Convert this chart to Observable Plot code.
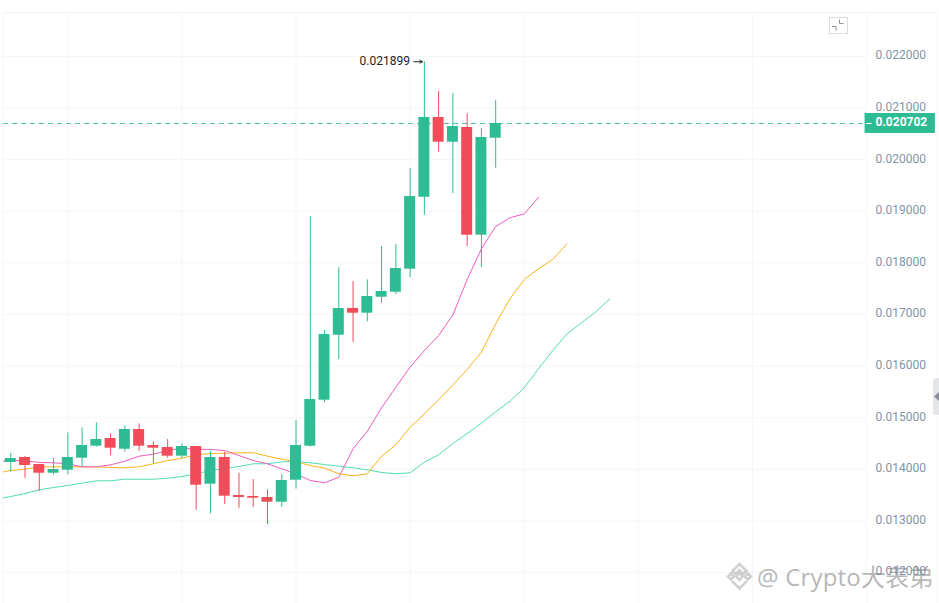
<!DOCTYPE html>
<html><head><meta charset="utf-8">
<script src="https://cdn.jsdelivr.net/npm/d3@7"></script>
<script src="https://cdn.jsdelivr.net/npm/@observablehq/plot@0.6"></script>
<style>
html,body{margin:0;padding:0;background:#fff;overflow:hidden}
#wrap{position:relative;width:939px;height:603px}
#wrap svg{display:block}
.wm{position:absolute;left:757px;top:562px;font:24px/30px "Open Sans","Noto Sans CJK SC",sans-serif;color:rgba(120,120,120,.55);letter-spacing:.2px;white-space:nowrap}
</style></head><body><div id="wrap"></div>
<script>
const highs=[.014312,.014248,.014093,.014209,.014707,.014804,.014901,.014688,.014843,.014882,.014533,.014577,.014494,.014442,.014345,.014331,.013924,.013802,.013603,.013899,.014946,.018899,.01669,.017905,.01764,.017672,.018318,.018357,.019824,.021899,.021322,.021283,.02089,.020605,.021147];
const opens=[.014132,.014229,.014093,.013924,.013983,.014215,.014448,.014597,.014389,.014771,.014461,.014422,.014254,.014442,.013711,.014229,.013492,.013473,.013453,.013362,.013789,.014448,.015339,.016599,.017116,.017025,.017335,.017432,.017878,.019273,.020818,.020339,.020624,.018537,.020417];
const closes=[.014209,.014074,.013924,.013996,.014229,.014461,.014577,.014409,.014771,.014448,.014409,.014254,.014442,.013692,.014229,.013479,.013453,.01344,.013362,.013783,.014461,.015353,.016612,.017116,.017025,.017349,.017446,.017891,.019287,.020818,.020339,.020643,.018537,.02043,.020702];
const lows=[.013944,.013827,.013576,.013886,.013893,.014054,.014428,.014262,.014331,.014351,.014107,.014215,.014209,.013207,.013138,.013318,.013246,.013265,.01293,.013265,.013614,.014428,.015289,.016122,.016463,.016858,.017219,.017388,.017717,.018924,.020145,.019345,.018318,.017911,.019835];
const ma7=[.014151,.01417,.014165,.014132,.014126,.014107,.014048,.014048,.014087,.014157,.014254,.014293,.014364,.014409,.014389,.014384,.014364,.014267,.01417,.014107,.01401,.013909,.013783,.013738,.013847,.014397,.014738,.015192,.015591,.015979,.016302,.016593,.016994,.017678,.018273,.018705,.018874,.018951,.019267];
const ma14=[.013924,.013977,.014002,.014048,.014048,.014048,.014048,.014048,.014035,.014029,.014048,.014107,.01417,.014215,.014281,.014306,.014312,.01432,.01432,.014254,.014196,.014151,.014074,.014021,.013913,.013874,.013913,.014254,.014475,.014816,.015075,.015347,.015638,.015934,.01627,.01682,.017304,.017678,.017886,.018066,.01837];
const ma28=[.013421,.013473,.013531,.013603,.013647,.013686,.013731,.013777,.013777,.013808,.013808,.013808,.013827,.01386,.013913,.013977,.014015,.014054,.014107,.014107,.014145,.014151,.014126,.014093,.01406,.014029,.01399,.013938,.013913,.013932,.014138,.014281,.0145,.014694,.014893,.015114,.01532,.015579,.015948,.016302,.016626,.016839,.017045,.017304];
const yTicks=[.012,.013,.014,.015,.016,.017,.018,.019,.02,.021,.022];
const xGrid=[4,12,20,28,36,44,52];
const lastPrice=.020702, maxPrice=.021899, maxIndex=29;
const green="#2dbc93", red="#f04c5a", grid="#f5f6f8", axisText="#8593a6";

const candles=highs.map((h,i)=>({i,h,l:lows[i],o:opens[i],c:closes[i],up:closes[i]>=opens[i]}));
const series=a=>a.map((v,k)=>({i:k-1,v}));
const fmt=d3.format(".6f");
const pxY=1/51600, pxX=1/14.27;
const font="Roboto, sans-serif";

const chart=Plot.plot({
  width:939,height:603,marginLeft:3,marginRight:73,marginTop:12,marginBottom:0,
  style:{background:"#fff",fontFamily:font,fontSize:"12px"},
  x:{domain:[-.51,60],axis:null},
  y:{domain:[.012-31*pxY,.022+44*pxY]},
  marks:[
    Plot.ruleX(xGrid,{stroke:grid,strokeWidth:1}),
    Plot.ruleY(yTicks,{stroke:grid,strokeWidth:1}),
    Plot.ruleX([-.58,60],{stroke:grid,strokeWidth:1}),
    Plot.ruleY([.022+44*pxY],{x1:-.51,x2:64.97,stroke:"#f3f4f6",strokeWidth:1}),
    Plot.ruleX([64.97],{y1:.012-31*pxY,y2:.022+44*pxY,stroke:grid,strokeWidth:1}),
    Plot.ruleY([lastPrice],{stroke:green,strokeWidth:1,strokeDasharray:"5 4",opacity:.85}),
    Plot.line(series(ma28),{x:"i",y:"v",stroke:"#4fdcb8",strokeWidth:1,clip:true}),
    Plot.line(series(ma14),{x:"i",y:"v",stroke:"#fdb01e",strokeWidth:1,clip:true}),
    Plot.line(series(ma7),{x:"i",y:"v",stroke:"#ee5cbc",strokeWidth:1,clip:true}),
    Plot.ruleX(candles,{x:"i",y1:"l",y2:"h",stroke:d=>d.up?green:red,strokeWidth:1}),
    Plot.rect(candles,{x1:d=>d.i-.385,x2:d=>d.i+.385,y1:"o",y2:"c",fill:d=>d.up?green:red}),
    Plot.axisY(yTicks,{anchor:"right",tickSize:0,tickPadding:9,tickFormat:fmt,label:null,fill:axisText,fontSize:12,dy:-1}),
    Plot.rect([lastPrice],{x1:60-.1,x2:64.83,y1:d=>d-10*pxY,y2:d=>d+10*pxY,fill:green}),
    Plot.ruleY([lastPrice],{x1:60,x2:60.4,stroke:"#fff",strokeWidth:1}),
    Plot.text([lastPrice],{x:60,y:d=>d,text:fmt,dx:9,dy:-1,textAnchor:"start",fill:"#fff",fontWeight:700,fontSize:12}),
    Plot.text([maxPrice],{x:maxIndex,y:d=>d,text:fmt,dx:-14.5,dy:-1,textAnchor:"end",fill:"#1e2329",fontSize:12}),
    Plot.arrow([maxPrice],{x1:maxIndex-10.5*pxX,x2:maxIndex-2*pxX,y1:d=>d,y2:d=>d,bend:0,headLength:5,stroke:"#1e2329",strokeWidth:1})
  ]
});
const wrap=document.getElementById("wrap");
wrap.appendChild(chart);
wrap.insertAdjacentHTML("beforeend",`
<svg style="position:absolute;left:829px;top:16px" width="20" height="19" fill="none">
<rect x=".5" y="1.5" width="18" height="16" stroke="#dcdde0"/>
<path d="M10.500 3.500v4h4M3 10.500h4v4" stroke="#8a919c" stroke-width="1"/></svg>
<svg style="position:absolute;left:725px;top:561px" width="29" height="30" fill="none" stroke="rgba(170,170,170,.55)" stroke-width="2.500">
<path d="M14.500 3l7 7-3 3-4-4-4 4-3-3zM3 15.500l3-3 3 3-3 3zM26 15.500l-3-3-3 3 3 3zM14.500 12l3 3.500-3 3.500-3-3.500zM7 20l7.500 7.500 7.500-7.500"/></svg>
<div class="wm">@ Crypto大表弟</div>
<div style="position:absolute;left:933px;top:378px;width:6px;height:37px;background:#e4e5e8;border-radius:3px 0 0 3px"></div>
<svg style="position:absolute;left:933px;top:391px" width="6" height="11"><path d="M1 5.500L6 1v9z" fill="#8a8f98"/></svg>`);
</script></body></html>
